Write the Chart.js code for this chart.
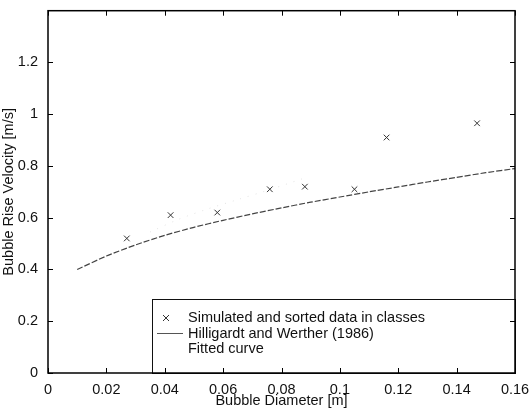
<!DOCTYPE html>
<html>
<head>
<meta charset="utf-8">
<script src="https://cdn.jsdelivr.net/npm/chart.js@4.4.1/dist/chart.umd.min.js"></script>
<style>
  html, body { margin: 0; padding: 0; background: #fff; }
  #wrap { width: 530px; height: 411px; position: relative; }
</style>
</head>
<body>
<div id="wrap"><canvas id="riseChart"></canvas></div>
<script>
// simulated data, sorted in classes
const diameters = [0.027, 0.042, 0.058, 0.076, 0.088, 0.105, 0.116, 0.147];
const velocities = [0.52, 0.61, 0.62, 0.71, 0.72, 0.71, 0.91, 0.965];

// Hilligardt and Werther (1986)
const hwDiameters = [0.01, 0.02, 0.03, 0.04, 0.05, 0.06, 0.07, 0.08, 0.09, 0.10, 0.11, 0.12, 0.13, 0.14, 0.15, 0.16];
const hwVelocities = [0.40, 0.452, 0.495, 0.532, 0.563, 0.59, 0.615, 0.638, 0.66, 0.68, 0.70, 0.719, 0.738, 0.756, 0.774, 0.79];

// fitted curve (barely visible in the original)
const fitDiameters = [0.035, 0.045, 0.055, 0.065, 0.075, 0.087];
const fitVelocities = [0.545, 0.595, 0.635, 0.67, 0.705, 0.75];

const xTicks = [0, 0.02, 0.04, 0.06, 0.08, 0.1, 0.12, 0.14, 0.16];
const yTicks = [0, 0.2, 0.4, 0.6, 0.8, 1, 1.2];

const legendLabels = ['Simulated and sorted data in classes', 'Hilligardt and Werther (1986)', 'Fitted curve'];

const FONT = '"Liberation Sans", Arial, Helvetica, sans-serif';
const FSIZE = 14.5;

function toPoints(xs, ys) {
    return xs.map(function (x, i) { return { x: x, y: ys[i] }; });
}

// box frame, inward ticks and the boxed legend
const matlabFrame = {
    id: 'matlabFrame',
    afterDatasetsDraw: function (chart) {
        const ctx = chart.ctx;
        const a = chart.chartArea;
        const xs = chart.scales.x;
        const ys = chart.scales.y;

        // legend box
        const lx = 152, ly = 299;
        ctx.save();
        ctx.fillStyle = '#fff';
        ctx.fillRect(lx, ly, a.right - lx, a.bottom - ly);
        ctx.strokeStyle = '#111';
        ctx.lineWidth = 1;
        ctx.strokeRect(lx + 0.5, ly + 0.5, a.right - lx, a.bottom - ly);

        ctx.font = FSIZE + 'px ' + FONT;
        ctx.fillStyle = '#111';
        ctx.textBaseline = 'middle';
        const rows = [318, 333.5, 349];
        legendLabels.forEach(function (t, i) {
            ctx.fillText(t, 188, rows[i]);
        });
        // marker sample
        ctx.strokeStyle = '#333';
        ctx.beginPath();
        ctx.moveTo(163, rows[0] - 3); ctx.lineTo(169, rows[0] + 3);
        ctx.moveTo(169, rows[0] - 3); ctx.lineTo(163, rows[0] + 3);
        ctx.stroke();
        // line sample
        ctx.strokeStyle = '#555';
        ctx.beginPath();
        ctx.moveTo(157, rows[1]); ctx.lineTo(183, rows[1]);
        ctx.stroke();

        // frame
        ctx.strokeStyle = '#000';
        ctx.lineWidth = 1.5;
        ctx.strokeRect(a.left, a.top, a.right - a.left, a.bottom - a.top);

        // ticks, drawn inward on all four sides
        ctx.lineWidth = 1;
        ctx.beginPath();
        xTicks.forEach(function (v) {
            const px = Math.round(xs.getPixelForValue(v)) + 0.5;
            ctx.moveTo(px, a.bottom); ctx.lineTo(px, a.bottom - 5);
            ctx.moveTo(px, a.top); ctx.lineTo(px, a.top + 5);
        });
        yTicks.forEach(function (v) {
            const py = Math.round(ys.getPixelForValue(v)) + 0.5;
            ctx.moveTo(a.left, py); ctx.lineTo(a.left + 5, py);
            ctx.moveTo(a.right, py); ctx.lineTo(a.right - 5, py);
        });
        ctx.stroke();
        ctx.restore();
    }
};

new Chart(document.getElementById('riseChart'), {
    type: 'scatter',
    data: {
        datasets: [{
            label: legendLabels[0],
            data: toPoints(diameters, velocities),
            pointStyle: 'crossRot',
            pointRadius: 4,
            pointBorderWidth: 1,
            borderColor: '#333',
            backgroundColor: '#333'
        }, {
            label: legendLabels[1],
            data: toPoints(hwDiameters, hwVelocities),
            showLine: true,
            pointRadius: 0,
            borderColor: '#444',
            borderWidth: 1.2,
            borderDash: [6, 2],
            tension: 0.2
        }, {
            label: legendLabels[2],
            data: toPoints(fitDiameters, fitVelocities),
            showLine: true,
            pointRadius: 0,
            borderColor: '#e2e2e2',
            borderWidth: 1,
            borderDash: [1, 7],
            tension: 0.3
        }]
    },
    options: {
        responsive: true,
        maintainAspectRatio: false,
        animation: false,
        layout: { padding: { top: 5, right: 15, left: 0, bottom: 0 } },
        plugins: {
            legend: { display: false },
            tooltip: { enabled: false }
        },
        scales: {
            x: {
                type: 'linear',
                min: 0,
                max: 0.16,
                grid: { display: false },
                border: { display: false },
                afterFit: function (scale) { scale.height = 38; },
                ticks: {
                    stepSize: 0.02,
                    padding: 0,
                    color: '#111',
                    font: { family: FONT, size: FSIZE },
                    callback: function (v) { return String(+v.toFixed(4)); }
                },
                title: {
                    display: true,
                    text: 'Bubble Diameter [m]',
                    color: '#111',
                    font: { family: FONT, size: FSIZE },
                    padding: { top: 0, bottom: 1 }
                }
            },
            y: {
                type: 'linear',
                min: 0,
                max: 1.4,
                grid: { display: false },
                border: { display: false },
                afterFit: function (scale) { scale.width = 48; },
                ticks: {
                    stepSize: 0.2,
                    padding: 2,
                    color: '#111',
                    font: { family: FONT, size: FSIZE },
                    callback: function (v) {
                        const r = +v.toFixed(4);
                        return r > 1.3 ? '' : String(r);
                    }
                },
                title: {
                    display: true,
                    text: 'Bubble Rise Velocity [m/s]',
                    color: '#111',
                    font: { family: FONT, size: FSIZE },
                    padding: { top: 0, bottom: 0 }
                }
            }
        }
    },
    plugins: [matlabFrame]
});
</script>
</body>
</html>
